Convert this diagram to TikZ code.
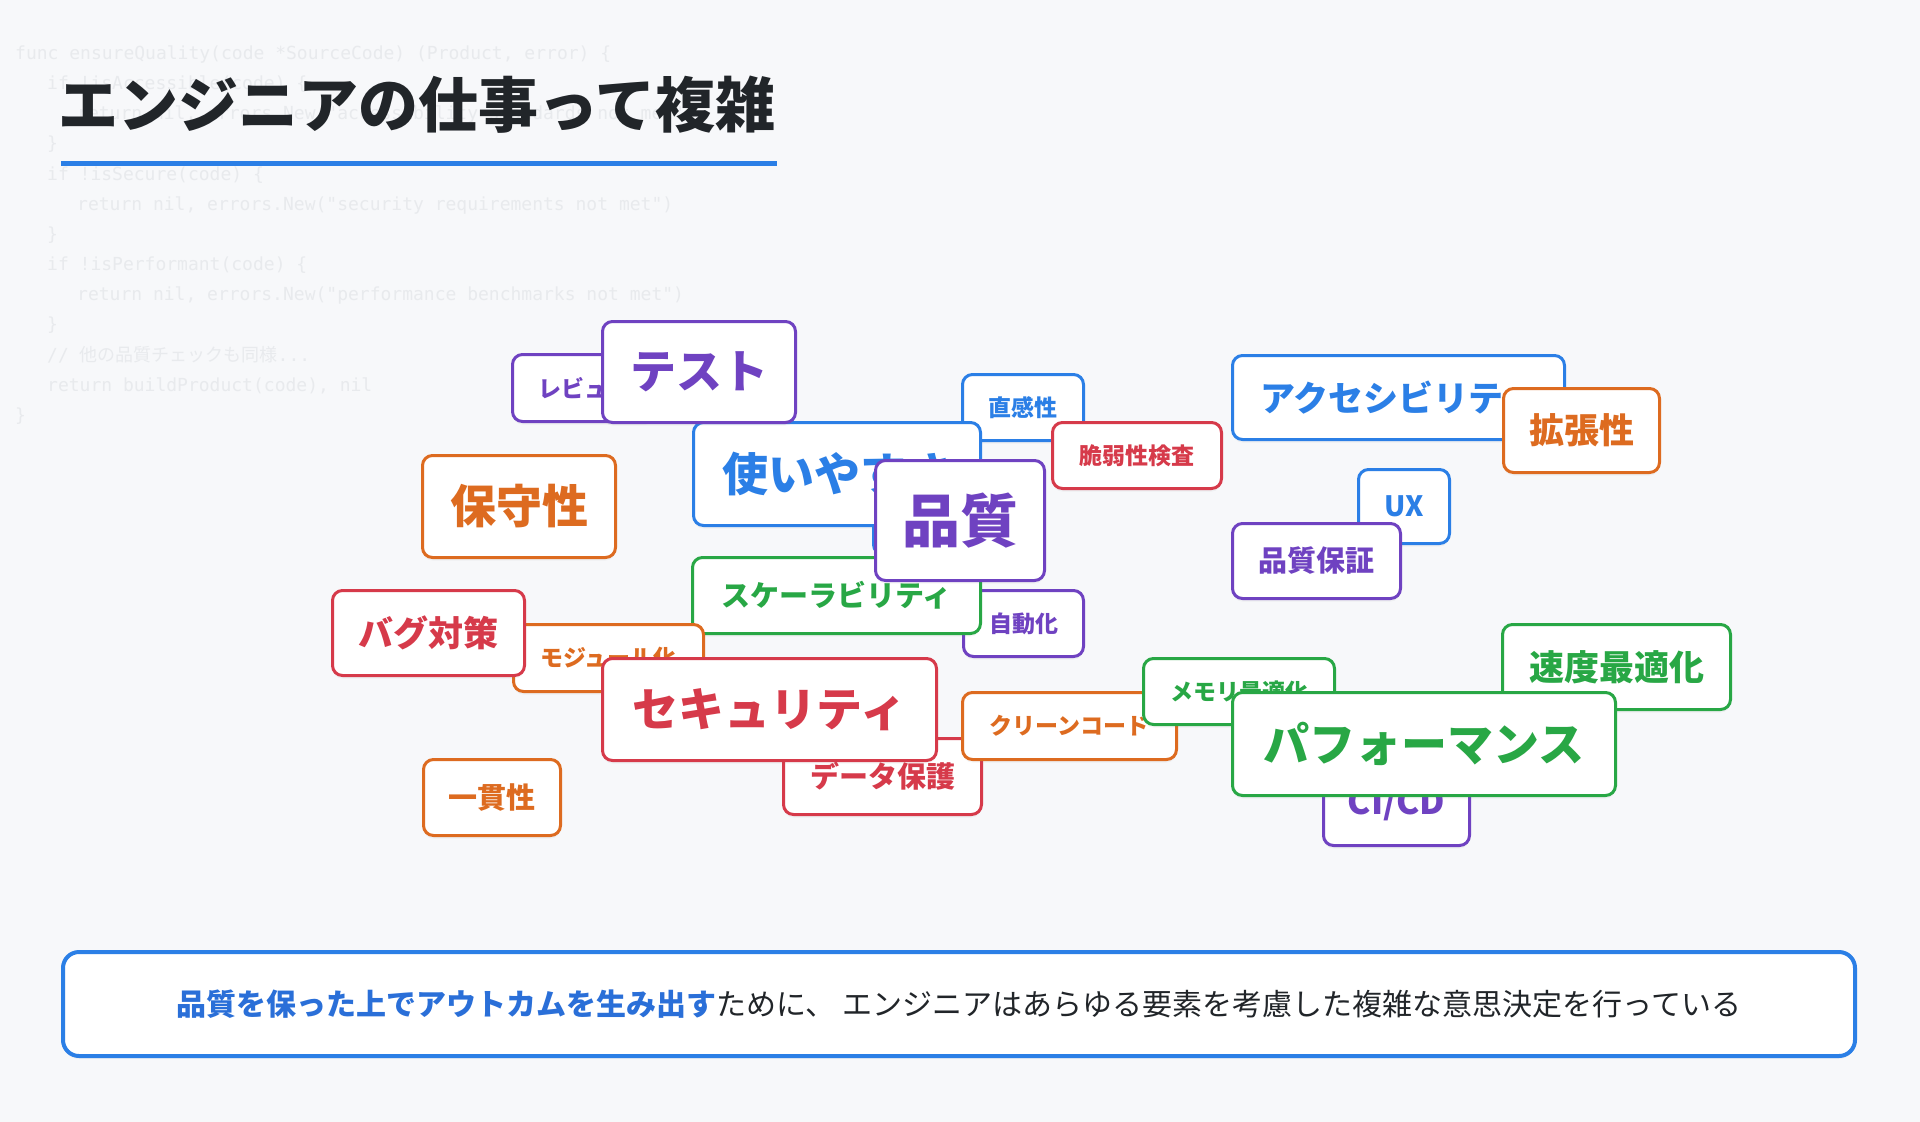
\documentclass[tikz,border=0pt]{standalone}
\usepackage{fontspec}
\newfontfamily\jp{Noto Sans CJK JP}
\newfontfamily\codefont{DejaVu Sans Mono}
\usetikzlibrary{shadows}
\definecolor{bg}{HTML}{F7F8FA}
\definecolor{codegray}{HTML}{E8EAED}
\definecolor{ink}{HTML}{212529}
\definecolor{cblue}{HTML}{2B7FE6}
\definecolor{cbluetext}{HTML}{2A6FD8}
\definecolor{cpurple}{HTML}{6F42C1}
\definecolor{corange}{HTML}{DD6B20}
\definecolor{cred}{HTML}{D63A4A}
\definecolor{cgreen}{HTML}{28A745}
\newcommand\tagfont[1]{\jp\bfseries\fontsize{#1}{#1}\selectfont}
\tikzset{
  tagbox/.style={draw=#1, text=#1, fill=white, line width=3pt, rounded corners=10pt,
    inner sep=0pt, align=center,
    drop shadow={opacity=0.07, shadow xshift=0pt, shadow yshift=-3pt}},
  codeline/.style={anchor=base west, inner sep=0pt, text=codegray,
    font=\codefont\fontsize{18}{18}\selectfont},
}
\begin{document}
\begin{tikzpicture}[x=1pt,y=-1pt]
\useasboundingbox (0,0) rectangle (1920,1122);
\fill[bg] (0,0) rectangle (1920,1122);

% background code
\node[codeline] (code0)  at (15,59)  {func ensureQuality(code *SourceCode) (Product, error) \{};
\node[codeline] (code1)  at (47,89)  {if !isAccessible(code) \{};
\node[codeline] (code2)  at (77,119) {return nil, errors.New("accessibility standards not met")};
\node[codeline] (code3)  at (47,149) {\}};
\node[codeline] (code4)  at (47,180) {if !isSecure(code) \{};
\node[codeline] (code5)  at (77,210) {return nil, errors.New("security requirements not met")};
\node[codeline] (code6)  at (47,240) {\}};
\node[codeline] (code7)  at (47,270) {if !isPerformant(code) \{};
\node[codeline] (code8)  at (77,300) {return nil, errors.New("performance benchmarks not met")};
\node[codeline] (code9)  at (47,330) {\}};
\node[codeline] (code10) at (47,361) {// {\jp 他の品質チェックも同様}...};
\node[codeline] (code11) at (47,391) {return buildProduct(code), nil};
\node[codeline] (code12) at (15,421) {\}};

% title
\node[anchor=west, inner sep=0pt, text=ink, font=\jp\bfseries\fontsize{60}{60}\selectfont] (title) at (58,105) {エンジニアの仕事って複雑};
\coordinate (ul1) at (61,163);
\coordinate (ul2) at (777,163);
\draw[cblue, line width=5pt] (ul1) -- (ul2);

% tags (back to front)
\node[tagbox=cpurple, minimum width=143pt, minimum height=67pt, font=\tagfont{23}] (review) at (584,388) {レビュー};
\node[tagbox=cblue, minimum width=121pt, minimum height=66pt, font=\tagfont{23}] (chokkan) at (1023,407.5) {直感性};
\node[tagbox=cblue, minimum width=125pt, minimum height=83pt] (hiddenblue) at (936,513) {};
\node[tagbox=cblue, minimum width=287pt, minimum height=103pt, font=\tagfont{46}] (tsukai) at (837,474) {使いやすさ};
\node[tagbox=cpurple, minimum width=193pt, minimum height=101pt, font=\tagfont{46}] (test) at (699,372) {テスト};
\node[tagbox=cred, minimum width=169pt, minimum height=66pt, font=\tagfont{23}] (zeijaku) at (1137,455.5) {脆弱性検査};
\node[tagbox=cpurple, minimum width=120pt, minimum height=66pt, font=\tagfont{23}] (jidouka) at (1023.5,623.5) {自動化};
\node[tagbox=cgreen, minimum width=288pt, minimum height=76pt, font=\tagfont{29}] (scal) at (836.5,595.5) {スケーラビリティ};
\node[tagbox=cpurple, minimum width=169pt, minimum height=120pt, font=\tagfont{58}] (hinshitsu) at (960,520.5) {品質};
\node[tagbox=cblue, minimum width=332pt, minimum height=84pt, font=\tagfont{35}] (access) at (1398.5,397.5) {アクセシビリティ};
\node[tagbox=corange, minimum width=156pt, minimum height=84pt, font=\tagfont{35}] (kakuchou) at (1581.5,430.5) {拡張性};
\node[tagbox=cblue, minimum width=91pt, minimum height=74pt, font=\tagfont{28}] (ux) at (1404,506.5) {UX};
\node[tagbox=cpurple, minimum width=168pt, minimum height=75pt, font=\tagfont{29}] (qa) at (1316.5,561) {品質保証};
\node[tagbox=corange, minimum width=193pt, minimum height=102pt, font=\tagfont{46}] (hoshu) at (519,506.5) {保守性};
\node[tagbox=corange, minimum width=190pt, minimum height=67pt, font=\tagfont{23}] (module) at (608.5,658) {モジュール化};
\node[tagbox=cred, minimum width=192pt, minimum height=85pt, font=\tagfont{35}] (bug) at (428.5,633) {バグ対策};
\node[tagbox=cred, minimum width=198pt, minimum height=76pt, font=\tagfont{29}] (data) at (882.5,776.5) {データ保護};
\node[tagbox=cred, minimum width=334pt, minimum height=102pt, font=\tagfont{46}] (security) at (769.5,709.5) {セキュリティ};
\node[tagbox=corange, minimum width=214pt, minimum height=67pt, font=\tagfont{23}] (clean) at (1069.5,726) {クリーンコード};
\node[tagbox=cgreen, minimum width=191pt, minimum height=66pt, font=\tagfont{23}] (memory) at (1239,691.5) {メモリ最適化};
\node[tagbox=cgreen, minimum width=228pt, minimum height=85pt, font=\tagfont{35}] (speed) at (1616.5,667) {速度最適化};
\node[tagbox=cpurple, minimum width=146pt, minimum height=85pt, font=\tagfont{35}] (cicd) at (1396.5,803) {CI/CD};
\node[tagbox=cgreen, minimum width=383pt, minimum height=103pt, font=\tagfont{46}] (perf) at (1424,744) {パフォーマンス};
\node[tagbox=corange, minimum width=137pt, minimum height=76pt, font=\tagfont{29}] (ikkan) at (492,797.5) {一貫性};

% summary box
\node[draw=cblue, fill=white, line width=4pt, rounded corners=16pt, inner sep=0pt,
  minimum width=1792pt, minimum height=104pt, text=ink,
  drop shadow={opacity=0.06, shadow xshift=0pt, shadow yshift=-3pt},
  font=\jp\fontsize{30}{30}\selectfont] (summary) at (959,1004)
  {{\bfseries\color{cbluetext}品質を保った上でアウトカムを生み出す}ために、 エンジニアはあらゆる要素を考慮した複雑な意思決定を行っている};
\end{tikzpicture}
\end{document}
